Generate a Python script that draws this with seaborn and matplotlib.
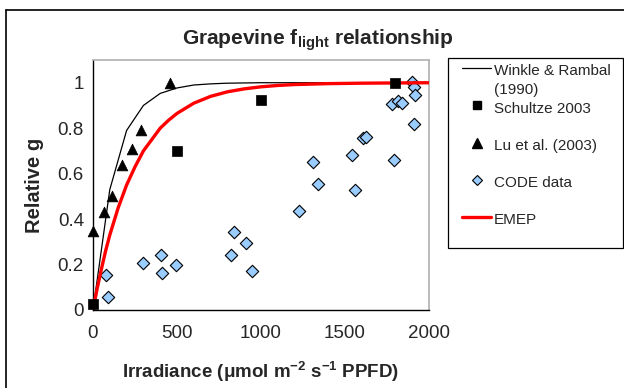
import matplotlib
matplotlib.use("Agg")
import matplotlib.pyplot as plt
from matplotlib.lines import Line2D
from matplotlib.patches import Rectangle
import seaborn as sns
import pandas as pd

# ---- data ----
winkle_x = [0, 100, 200, 300, 400, 500, 600, 700, 800, 900, 1000, 1100, 1200,
            1300, 1400, 1500, 1600, 1700, 1800, 1900, 2000]
winkle_y = [0, 0.53, 0.79, 0.90, 0.953, 0.977, 0.99, 0.995, 0.998, 0.999, 1.0,
            1.0, 1.0, 1.0, 1.0, 1.0, 1.0, 1.0, 1.0, 1.0, 1.0]

emep_x = [0, 25, 50, 75, 100, 150, 200, 250, 300, 350, 400, 450, 500, 600, 700,
          800, 900, 1000, 1100, 1200, 1400, 1600, 1800, 2000]
emep_y = [0, 0.095, 0.18, 0.26, 0.33, 0.45, 0.55, 0.63, 0.70, 0.75, 0.80, 0.835,
          0.865, 0.91, 0.94, 0.96, 0.973, 0.982, 0.988, 0.992, 0.996, 0.998, 0.999, 1.0]

schultze_x = [0, 500, 1000, 1800]
schultze_y = [0.025, 0.70, 0.925, 1.0]

lu_x = [0, 64, 115, 175, 232, 286, 456]
lu_y = [0.346, 0.43, 0.50, 0.64, 0.71, 0.79, 1.0]

code_x = [77, 91, 298, 405, 411, 494, 821, 841, 911, 948, 1226, 1308, 1337,
          1544, 1558, 1609, 1623, 1780, 1792, 1818, 1837, 1901, 1911, 1915, 1909]
code_y = [0.156, 0.058, 0.205, 0.244, 0.165, 0.200, 0.24, 0.343, 0.295, 0.17,
          0.436, 0.652, 0.553, 0.684, 0.528, 0.757, 0.763, 0.905, 0.661, 0.921,
          0.91, 1.003, 0.98, 0.946, 0.819]

x_ticks = [0, 500, 1000, 1500, 2000]
y_ticks = [0, 0.2, 0.4, 0.6, 0.8, 1.0]
y_tick_labels = ["0", "0.2", "0.4", "0.6", "0.8", "1"]

title = r"Grapevine f$_{\mathbf{light}}$ relationship"
xlabel = r"Irradiance ($\mathbf{\mu}$mol m$^{\mathbf{-2}}$ s$^{\mathbf{-1}}$ PPFD)"
ylabel = "Relative g"
legend_labels = ["Winkle & Rambal", "(1990)", "Schultze 2003", " ", "Lu et al. (2003)",
                 " ", "CODE data", " ", "EMEP", " "]

# ---- style ----
sns.set_style("white")
plt.rcParams["font.family"] = ["Liberation Sans", "DejaVu Sans"]
plt.rcParams["mathtext.fontset"] = "custom"
plt.rcParams["mathtext.rm"] = "Liberation Sans"
plt.rcParams["mathtext.it"] = "Liberation Sans"
plt.rcParams["mathtext.bf"] = "Liberation Sans:bold"

W, H = 624, 388
fig = plt.figure(figsize=(W / 100, H / 100), dpi=100)
ax = fig.add_axes([93 / W, 1 - 310 / H, (429 - 93) / W, (310 - 60) / H])

# frame around chart (only top & left visible in reference)
fig.add_artist(Line2D([6 / W, 6 / W], [0, 1 - 10 / H], transform=fig.transFigure,
                      color="black", lw=1.2))
fig.add_artist(Line2D([6 / W, 1], [1 - 10 / H, 1 - 10 / H], transform=fig.transFigure,
                      color="black", lw=1.2))

wdf = pd.DataFrame({"x": winkle_x, "y": winkle_y})
edf = pd.DataFrame({"x": emep_x, "y": emep_y})
sdf = pd.DataFrame({"x": schultze_x, "y": schultze_y})
ldf = pd.DataFrame({"x": lu_x, "y": lu_y})
cdf = pd.DataFrame({"x": code_x, "y": code_y})

sns.lineplot(data=wdf, x="x", y="y", ax=ax, color="black", lw=0.9, zorder=3)
sns.scatterplot(data=cdf, x="x", y="y", ax=ax, marker="D", s=40, color="#99ccff",
                edgecolor="black", linewidth=0.8, zorder=4)
sns.lineplot(data=edf, x="x", y="y", ax=ax, color="#ff0000", lw=2.4, zorder=5)
sns.scatterplot(data=ldf, x="x", y="y", ax=ax, marker="^", s=60, color="black",
                edgecolor="black", linewidth=0.5, zorder=6, clip_on=False)
sns.scatterplot(data=sdf, x="x", y="y", ax=ax, marker="s", s=48, color="black",
                edgecolor="black", linewidth=0.5, zorder=6, clip_on=False)

ax.set_xlim(0, 2000)
ax.set_ylim(0, 1.1)
ax.set_xticks(x_ticks)
ax.set_yticks(y_ticks)
ax.set_yticklabels(y_tick_labels)
ax.tick_params(axis="both", direction="inout", length=9, width=1, color="black",
               labelsize=13.5, pad=2)
ax.tick_params(axis="x", pad=6)
ax.set_xlabel(xlabel, fontsize=13.5, fontweight="bold", labelpad=13)
ax.set_ylabel(ylabel, fontsize=14.5, fontweight="bold", labelpad=10)

for side in ("left", "bottom"):
    ax.spines[side].set_color("black")
    ax.spines[side].set_linewidth(1)
for side in ("top", "right"):
    ax.spines[side].set_color("#b0b0b0")
    ax.spines[side].set_linewidth(1.2)
ax.grid(False)

fig.text(318 / W, 1 - 40 / H, title, ha="center", va="center", fontsize=15,
         fontweight="bold")

# legend frame
fig.add_artist(Rectangle((448 / W, 1 - 248 / H), (623 - 448) / W, (248 - 58) / H,
                         transform=fig.transFigure, facecolor="white",
                         edgecolor="black", lw=0.9, zorder=1))

blank = Line2D([], [], ls="none")
handles = [
    Line2D([], [], color="black", lw=0.9),
    blank,
    Line2D([], [], color="black", marker="s", ls="none", markersize=6),
    blank,
    Line2D([], [], color="black", marker="^", ls="none", markersize=7),
    blank,
    Line2D([], [], color="#99ccff", marker="D", ls="none", markersize=5.5,
           markeredgecolor="black", markeredgewidth=0.8),
    blank,
    Line2D([], [], color="#ff0000", lw=2.4),
    blank,
]
leg = fig.legend(handles, legend_labels, loc="upper left",
                 bbox_to_anchor=(462 / W, 1 - 61 / H), bbox_transform=fig.transFigure,
                 fontsize=11, frameon=False, handlelength=1.9, handletextpad=0.2,
                 handleheight=1.5, labelspacing=0.0, borderpad=0.0, borderaxespad=0)
leg.set_zorder(2)

fig.savefig("out.png", dpi=100)
